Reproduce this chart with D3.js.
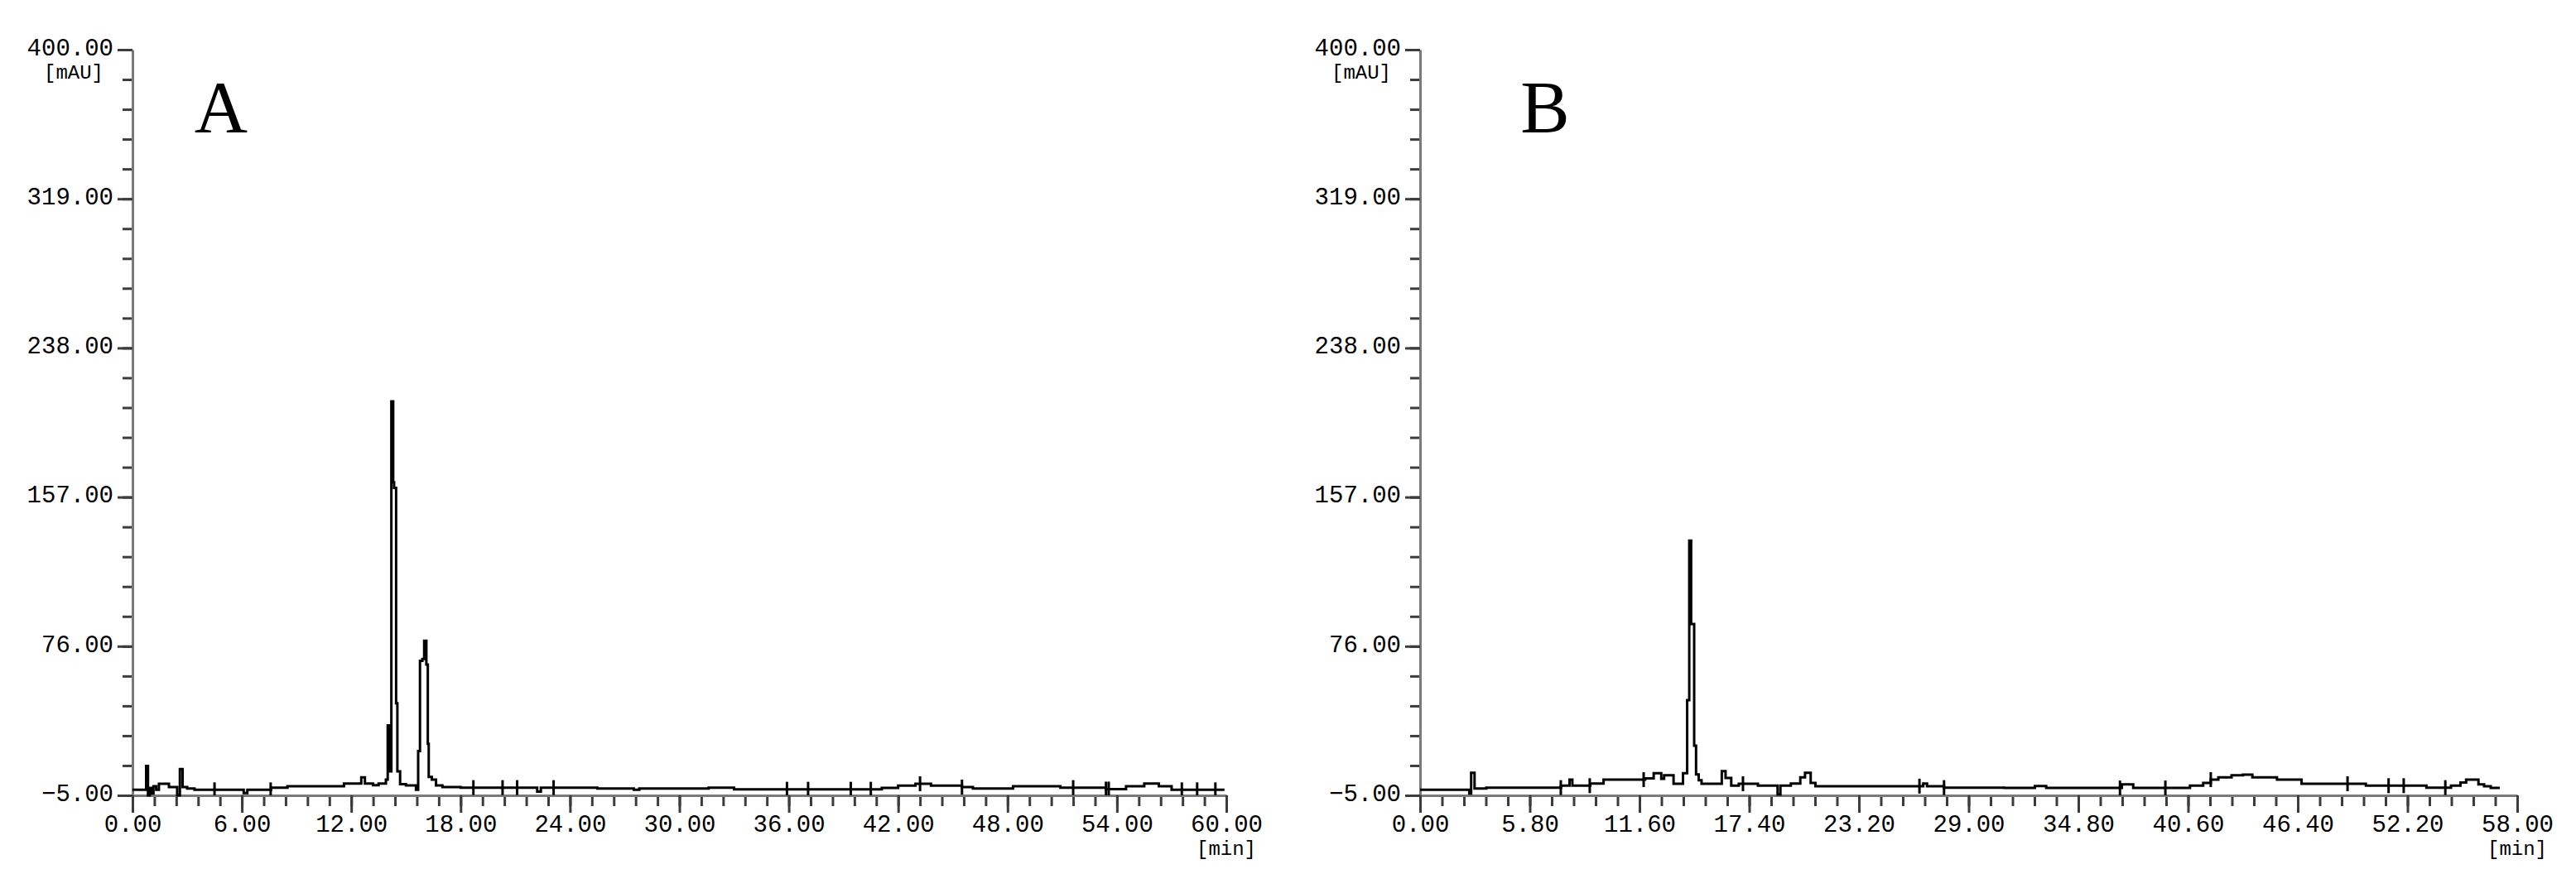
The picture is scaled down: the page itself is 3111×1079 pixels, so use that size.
<!DOCTYPE html>
<html lang="en">
<head>
<meta charset="utf-8">
<title>Chromatograms A and B</title>
<script type="text/javascript" src="https://cdn.jsdelivr.net/npm/d3@7"></script>
<style type="text/css">
  body { margin: 0; background: white; }
  svg { background-color: white; display: block; }
  .tick text { font-family: "Liberation Mono", monospace; font-size: 29px; fill: #000; }
  .unit { font-family: "Liberation Mono", monospace; font-size: 24px; fill: #000; }
  .panel-letter { font-family: "Liberation Serif", serif; font-size: 89px; fill: #000; }
</style>
</head>
<body>
<script type="text/javascript">

// y axis (mAU), same for both panels
var yTicks = [-5, 76, 157, 238, 319, 400];

// panel A: time [min] where each level starts, and signal [mAU]
var xTicksA = [0, 6, 12, 18, 24, 30, 36, 42, 48, 54, 60];
var timeA = [0, 0.75, 0.85, 0.95, 1.05, 1.15, 1.3, 1.45, 2.0, 2.45, 2.6, 2.75, 3.0, 3.4,
  6.1, 6.3, 7.6, 8.5, 11.6, 12.55, 12.75, 13.2, 13.5, 13.9, 14.0, 14.1, 14.2, 14.3,
  14.35, 14.46, 14.53, 14.68, 15.0, 15.55, 15.67, 15.77, 15.9, 16.0, 16.12, 16.2,
  16.25, 16.42, 16.65, 17.0, 18.0, 22.2, 22.4, 25.5, 27.5, 27.8, 29.1, 31.6, 33.0,
  41.1, 42.0, 42.95, 43.8, 45.5, 46.1, 48.3, 50.9, 53.4, 54.5, 55.5, 56.3, 57.0, 59.9];
var signalA = [-2, 11, -5, -1, -4, 0, -2, 1.3, -0.5, -5, 9.3, -0.5, -1.3, -2,
  -3.8, -2, -0.8, 0, 1.4, 4.8, 1.4, 0.5, 1.4, 3.5, 33, 8, 209, 165,
  162, 45, 8, 1.1, 0.4, -2, 19, 68, 69, 79, 66, 23,
  5, 3.5, 0.4, -0.5, -0.8, -3, -0.8, -1.3, -2, -1.3, -1.3, -0.8, -1.7,
  -1, 0.3, 1.3, 0.3, -0.5, -1.3, 0, -0.8, -1.6, 0, 1.4, 0, -2, -2];
var markA = [4.5, 7.58, 18.7, 20.3, 21.1, 23.1, 35.9, 37.06, 39.4, 40.5, 43.2, 45.5,
  51.6, 53.4, 53.55, 57.56, 58.4, 59.4];

// panel B
var xTicksB = [0, 5.8, 11.6, 17.4, 23.2, 29, 34.8, 40.6, 46.4, 52.2, 58];
var timeB = [0, 2.6, 2.7, 2.88, 3.5, 7.45, 7.9, 8.05, 9.0, 9.7, 11.9, 12.35, 12.75, 12.9,
  13.4, 13.9, 14.12, 14.23, 14.33, 14.49, 14.59, 14.73, 14.88, 15.95, 16.15, 16.45,
  16.85, 17.86, 18.9, 19.05, 19.6, 20.1, 20.35, 20.65, 20.9, 26.6, 26.8, 27.7, 30.9,
  32.5, 33.1, 37.1, 37.7, 40.7, 41.4, 41.8, 42.2, 42.9, 43.5, 44.0, 45.3, 46.6, 50.0,
  53.2, 54.5, 55.0, 55.3, 55.95, 56.25, 56.6, 57.08];
var signalB = [-2, -4, 7.3, -1.3, -0.8, 0.25, 3.5, 0.25, 1.45, 3.55, 4.2, 7, 4, 5.9,
  1.3, 7, 46.7, 133.3, 88, 22, 6.3, 3.2, 1.3, 8.2, 4.4, 0.25,
  1.3, 0.25, -4.5, 0.25, 1.45, 4.75, 7.3, 1.75, 0, 1.45, 0, -0.8, -1,
  0.1, -1, 1, -1, 0.25, 1.75, 3.55, 4.75, 5.9, 6.25, 4.75, 3.55, 1.3, 0.25,
  -0.8, 0.25, 2, 3.55, 1.0, 0, -1.0, -1.0];
var markB = [7.44, 8.97, 11.82, 17.07, 26.4, 27.7, 37.0, 39.4, 41.8, 49.03, 51.2, 52.0, 54.2];

var svg = d3.select("body")
  .append("svg")
  .attr("width", 3111)
  .attr("height", 1079);

var fmt = d3.format(".2f");

function drawPanel(opt) {

  var x = d3.scaleLinear().domain([0, opt.xMax]).range([opt.left, opt.right]);
  var y = d3.scaleLinear().domain([-5, 400]).range([961, 60]);

  var g = svg.append("g");

  // minor ticks, 5 intervals between labels
  var yStep = (yTicks[1] - yTicks[0]) / 5;
  var yMinor = d3.range(0, 26).map(function(i) { return yTicks[0] + i * yStep; });
  var xStep = (opt.xTicks[1] - opt.xTicks[0]) / 5;
  var xMinor = d3.range(0, 51).map(function(i) { return i * xStep; });

  g.append("g")
    .attr("transform", "translate(" + opt.left + ",0)")
    .call(d3.axisLeft(y).tickValues(yMinor).tickSize(12).tickSizeOuter(0).tickFormat(""))
    .call(function(a) { a.select(".domain").remove(); });

  g.append("g")
    .attr("transform", "translate(0,961)")
    .call(d3.axisBottom(x).tickValues(xMinor).tickSize(13).tickSizeOuter(0).tickFormat(""))
    .call(function(a) { a.select(".domain").remove(); });

  var yAxis = g.append("g")
    .attr("transform", "translate(" + opt.left + ",0)")
    .call(d3.axisLeft(y).tickValues(yTicks).tickSize(18).tickSizeOuter(0)
      .tickPadding(5).tickFormat(fmt));
  yAxis.selectAll(".tick text").attr("dy", "0.22em");

  g.append("g")
    .attr("transform", "translate(0,961)")
    .call(d3.axisBottom(x).tickValues(opt.xTicks).tickSize(21).tickSizeOuter(0)
      .tickPadding(2).tickFormat(fmt));

  g.selectAll(".tick line").attr("stroke", "#3c3c3c").attr("stroke-width", 3);
  g.selectAll(".domain").attr("stroke", "#7a7a7a").attr("stroke-width", 3);

  // units
  g.append("text")
    .attr("class", "unit")
    .attr("x", opt.left - 35)
    .attr("y", 95)
    .attr("text-anchor", "end")
    .text("[mAU]");

  g.append("text")
    .attr("class", "unit")
    .attr("x", opt.right)
    .attr("y", 1033)
    .attr("text-anchor", "middle")
    .text("[min]");

  g.append("text")
    .attr("class", "panel-letter")
    .attr("x", opt.left + opt.letterDx)
    .attr("y", 159)
    .attr("text-anchor", "middle")
    .text(opt.letter);

  var pts = opt.time.map(function(t, i) { return [t, opt.signal[i]]; });

  var line = d3.line()
    .x(function(d) { return x(d[0]); })
    .y(function(d) { return y(d[1]); })
    .curve(d3.curveStepAfter);

  g.append("path")
    .datum(pts)
    .attr("d", line)
    .attr("fill", "none")
    .attr("stroke", "#000")
    .attr("stroke-width", 3);

  // integration marks across the trace
  var bis = d3.bisector(function(d) { return d[0]; }).right;
  g.selectAll(".mark")
    .data(opt.marks)
    .enter()
    .append("line")
    .attr("class", "mark")
    .attr("x1", function(d) { return x(d); })
    .attr("x2", function(d) { return x(d); })
    .attr("y1", function(d) { return y(pts[Math.max(0, bis(pts, d) - 1)][1]) - 9; })
    .attr("y2", function(d) { return Math.min(961, y(pts[Math.max(0, bis(pts, d) - 1)][1]) + 9); })
    .attr("stroke", "#000")
    .attr("stroke-width", 3);
}

drawPanel({ left: 160, right: 1481, xMax: 60, xTicks: xTicksA,
  time: timeA, signal: signalA, marks: markA, letter: "A", letterDx: 107 });

drawPanel({ left: 1715, right: 3040, xMax: 58, xTicks: xTicksB,
  time: timeB, signal: signalB, marks: markB, letter: "B", letterDx: 151 });

</script>
</body>
</html>
